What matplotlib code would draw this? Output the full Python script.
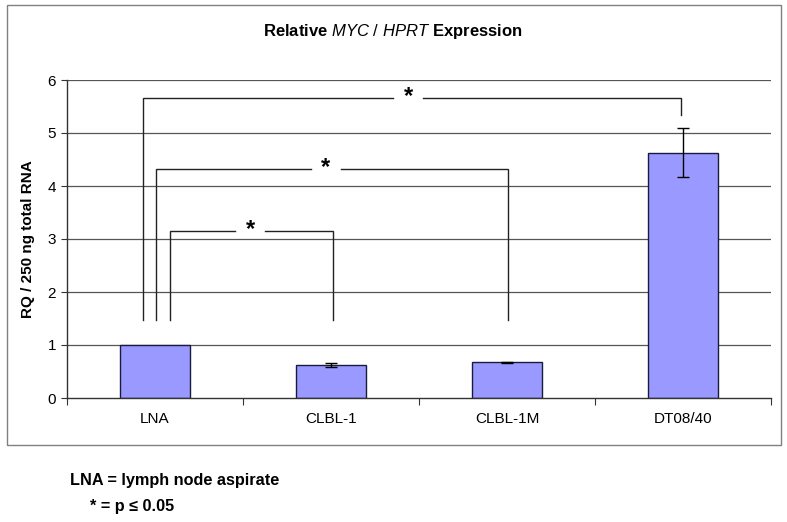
import matplotlib
matplotlib.use("Agg")
import matplotlib.pyplot as plt
from matplotlib.patches import Rectangle

plt.rcParams["font.family"] = ["Liberation Sans", "DejaVu Sans"]
plt.rcParams["mathtext.fontset"] = "custom"
plt.rcParams["mathtext.it"] = "Liberation Sans:italic"
plt.rcParams["mathtext.rm"] = "Liberation Sans"

categories = ["LNA", "CLBL-1", "CLBL-1M", "DT08/40"]
rq_values = [1.0, 0.62, 0.67, 4.62]
rq_err_low = [0.0, 0.04, 0.015, 0.45]
rq_err_high = [0.0, 0.04, 0.015, 0.48]

# significance brackets: (left x, right x, top y, left bottom y, right bottom y, star x)
brackets = [
    (-0.07, 2.99, 5.66, 1.48, 5.34, 1.44),
    (0.005, 2.005, 4.32, 1.48, 1.48, 0.97),
    (0.085, 1.01, 3.15, 1.48, 1.48, 0.54),
]
star_gap = 0.085  # half-width of the gap around each star, in category units

W, H = 787, 522
fig = plt.figure(figsize=(W / 100, H / 100), dpi=100)
fig.patch.set_facecolor("white")

# outer chart frame
fig.patches.append(Rectangle((7 / W, 1 - 445 / H), (781 - 7) / W, (445 - 5) / H,
                             transform=fig.transFigure, fill=False,
                             edgecolor="#808080", linewidth=1.0))

ax = fig.add_axes([67 / W, 1 - 398 / H, (771 - 67) / W, (398 - 80) / H])
x = list(range(len(categories)))

for y in range(1, 7):
    ax.axhline(y, color="#555555", linewidth=0.9, zorder=0)

ax.bar(x, rq_values, width=0.4, color="#9999FF", edgecolor="#1a1a40",
       linewidth=1.0, zorder=2)
ax.errorbar(x[1:], rq_values[1:], yerr=[rq_err_low[1:], rq_err_high[1:]],
            fmt="none", ecolor="black", elinewidth=1.0, capsize=4,
            capthick=1.0, zorder=3)

for xl, xr, top, bl, br, xs in brackets:
    ax.plot([xl, xl, xs - star_gap], [bl, top, top], color="#222222",
            linewidth=1.0, zorder=1, solid_joinstyle="miter")
    ax.plot([xs + star_gap, xr, xr], [top, top, br], color="#222222",
            linewidth=1.0, zorder=1, solid_joinstyle="miter")
    ax.text(xs, top + 0.03, "*", ha="center", va="center", fontsize=17,
            fontweight="bold", zorder=5)

ax.set_xlim(-0.5, 3.5)
ax.set_ylim(0, 6)
ax.set_yticks(range(0, 7))
ax.set_yticklabels([str(v) for v in range(0, 7)], fontsize=11)
ax.set_xticks([-0.5, 0.5, 1.5, 2.5, 3.5])
ax.set_xticklabels([])
ax.set_xticks(x, minor=True)
ax.set_xticklabels(categories, minor=True, fontsize=11)
ax.tick_params(axis="x", which="major", direction="out", length=5, color="#333333")
ax.tick_params(axis="x", which="minor", length=0, pad=10)
ax.tick_params(axis="y", direction="out", length=4, color="#333333", pad=4)

for side in ["top", "right"]:
    ax.spines[side].set_visible(False)
for side in ["left", "bottom"]:
    ax.spines[side].set_color("#333333")
    ax.spines[side].set_linewidth(1.0)

ax.set_ylabel("RQ / 250 ng total RNA", fontsize=11, fontweight="bold", labelpad=9)

fig.text(393 / W, 1 - 31 / H,
         r"Relative $\mathit{MYC\ /\ HPRT}$ Expression",
         ha="center", va="center", fontsize=12, fontweight="bold")

fig.text(70 / W, 1 - 480 / H, "LNA = lymph node aspirate", ha="left",
         va="center", fontsize=11.7, fontweight="bold")
fig.text(90 / W, 1 - 506 / H, "* = p \u2264 0.05", ha="left",
         va="center", fontsize=11.7, fontweight="bold")

fig.savefig("out.png", dpi=100)
